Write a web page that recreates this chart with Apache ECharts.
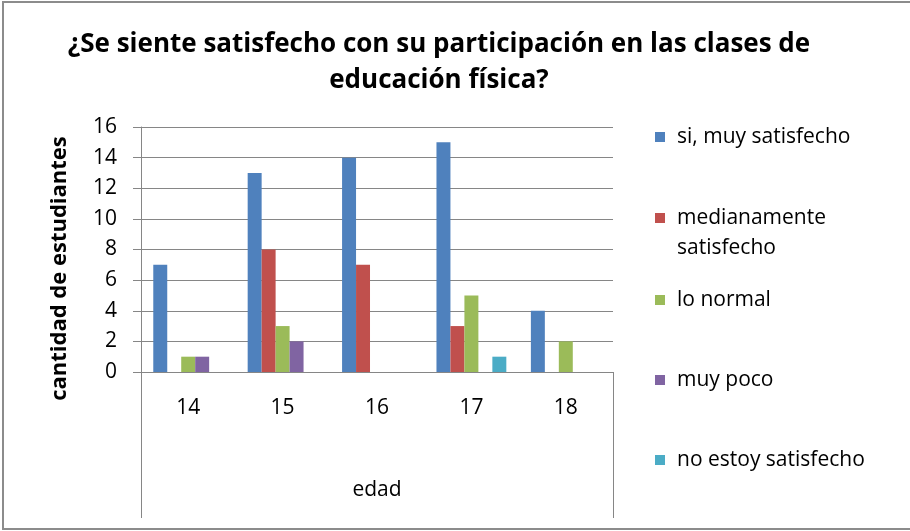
<!DOCTYPE html>
<html>
<head>
<meta charset="utf-8">
<script src="https://cdn.jsdelivr.net/npm/echarts@6/dist/echarts.min.js"></script>
<style>
  html, body { margin: 0; padding: 0; background: #fff; }
  #chart { width: 910px; height: 531px; }
</style>
</head>
<body>
<div id="chart"></div>
<script>
// Survey answers by age
const ages = ['14', '15', '16', '17', '18'];
const seriesNames = ['si, muy satisfecho', 'medianamente satisfecho', 'lo normal', 'muy poco', 'no estoy satisfecho'];
const muySatisfecho = [7, 13, 14, 15, 4];
const medianamente = [0, 8, 7, 3, 0];
const loNormal = [1, 3, 0, 5, 2];
const muyPoco = [1, 2, 0, 0, 0];
const noSatisfecho = [0, 0, 0, 1, 0];
const yTicks = { min: 0, max: 16, interval: 2 };

const colors = ['#4F81BD', '#C0504D', '#9BBB59', '#8064A2', '#4BACC6'];
const values = [muySatisfecho, medianamente, loNormal, muyPoco, noSatisfecho];

const FONT = 'Open Sans';
const TEXT_SIZE = 21;
const GRID = { left: 141, right: 297, top: 127, bottom: 159 };
const W = 910, H = 531;
const plotRight = W - GRID.right;
const plotBottom = H - GRID.bottom;
const boxBottom = 518;
const axisGray = '#868686';

const legendTops = [126, 207, 289, 369, 449];
const legendNames = ['si, muy satisfecho', 'medianamente', 'lo normal', 'muy poco', 'no estoy satisfecho'];

const chart = echarts.init(document.getElementById('chart'), null, { renderer: 'canvas' });

const option = {
  animation: false,
  backgroundColor: '#ffffff',
  color: colors,
  title: {
    text: '¿Se siente satisfecho con su participación en las clases de\neducación física?',
    left: 434,
    top: 22,
    textAlign: 'center',
    textStyle: { fontFamily: FONT, fontSize: 26, fontWeight: 'bold', color: '#000', lineHeight: 36 }
  },
  legend: seriesNames.map((name, i) => ({
    data: [name],
    left: 655,
    top: legendTops[i],
    padding: 0,
    itemWidth: 10,
    itemHeight: 10,
    icon: 'rect',
    selectedMode: false,
    formatter: () => legendNames[i],
    textStyle: { fontFamily: FONT, fontSize: TEXT_SIZE, color: '#000', lineHeight: 22, padding: [0, 0, 0, 7] }
  })),
  grid: GRID,
  xAxis: {
    type: 'category',
    data: ages,
    name: 'edad',
    nameLocation: 'middle',
    nameGap: 108,
    nameTextStyle: { fontFamily: FONT, fontSize: TEXT_SIZE, color: '#000' },
    axisLine: { show: true, lineStyle: { color: axisGray, width: 1 } },
    axisTick: { show: false },
    axisLabel: { fontFamily: FONT, fontSize: TEXT_SIZE, color: '#000', margin: 26 }
  },
  yAxis: {
    type: 'value',
    min: yTicks.min,
    max: yTicks.max,
    interval: yTicks.interval,
    name: 'cantidad de estudiantes',
    nameLocation: 'middle',
    nameGap: 70,
    nameTextStyle: { fontFamily: FONT, fontSize: 22, fontWeight: 'bold', color: '#000', padding: [0, 38, 0, 0] },
    axisLine: { show: true, lineStyle: { color: axisGray, width: 1 } },
    axisTick: { show: true, length: 8, lineStyle: { color: axisGray } },
    axisLabel: { fontFamily: FONT, fontSize: TEXT_SIZE, color: '#000', margin: 24 },
    splitLine: { show: true, lineStyle: { color: axisGray, width: 1 } }
  },
  series: seriesNames.map((name, i) => ({
    name: name,
    type: 'bar',
    data: values[i],
    barGap: '0%',
    barCategoryGap: '26%',
    itemStyle: { color: colors[i] }
  })),
  graphic: [
    // outer chart frame
    { type: 'rect', shape: { x: 3, y: 2, width: W + 4, height: 527 },
      style: { fill: 'none', stroke: '#8c8c8c', lineWidth: 2 }, silent: true },
    // axis box below the plot
    { type: 'line', shape: { x1: GRID.left + 0.5, y1: plotBottom, x2: GRID.left + 0.5, y2: boxBottom },
      style: { stroke: axisGray, lineWidth: 1 }, silent: true },
    { type: 'line', shape: { x1: plotRight + 0.5, y1: plotBottom, x2: plotRight + 0.5, y2: boxBottom },
      style: { stroke: axisGray, lineWidth: 1 }, silent: true },
    // second line of the "medianamente satisfecho" legend entry
    { type: 'text', left: 677, top: 238,
      style: { text: 'satisfecho', fontFamily: FONT, fontSize: TEXT_SIZE, fill: '#000' }, silent: true }
  ]
};

chart.setOption(option);
</script>
</body>
</html>
